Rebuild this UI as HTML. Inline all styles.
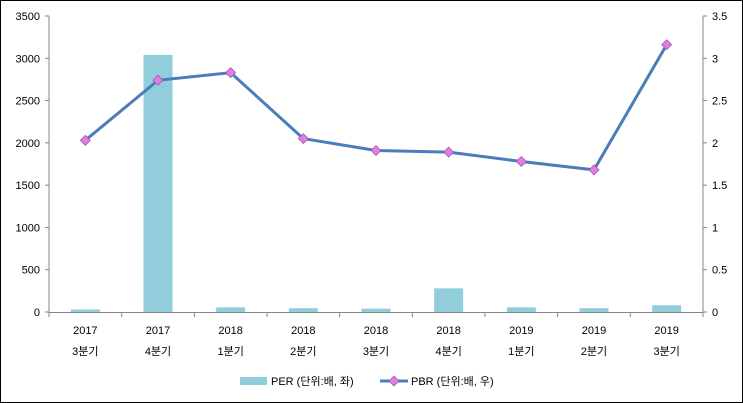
<!DOCTYPE html><html><head><meta charset="utf-8"><style>body{margin:0;background:#fff}svg{display:block}text{font-family:"Liberation Sans","Noto Sans CJK KR",sans-serif;font-size:11px;fill:#000}</style></head><body>
<svg width="743" height="403" viewBox="0 0 743 403">
<rect x="0.5" y="0.5" width="742" height="402" fill="#fff" stroke="#000"/>
<g id="bars" fill="#92CDDC"></g>
<g stroke="#868686" fill="none">
<line x1="49" y1="16" x2="49" y2="312"/><line x1="49" y1="312.5" x2="703" y2="312.5"/><line x1="703" y1="16" x2="703" y2="312"/>
</g>
<g id="tk" stroke="#868686"></g>
<g id="lbl"></g>
<polyline id="ln" fill="none" stroke="#4A7EBB" stroke-width="3"/>
<g id="mk"></g>
<rect x="240" y="377" width="27" height="8" fill="#92CDDC"/>
<text x="271" y="385">PER (단위:배, 좌)</text>
<line x1="380" y1="381" x2="408" y2="381" stroke="#4A7EBB" stroke-width="3"/>
<polygon points="394,376 399,381 394,386 389,381" fill="#E07FE0" stroke="#9B4DB5" stroke-width="0.7"/>
<text x="411" y="385">PBR (단위:배, 우)</text>
</svg>
<script>
const ns="http://www.w3.org/2000/svg";function el(p,t,a,tx){const e=document.createElementNS(ns,t);for(const k in a)e.setAttribute(k,a[k]);if(tx!=null)e.textContent=tx;document.getElementById(p).appendChild(e);}
const y0=312,h=296,w=(703-49)/9;
for(let i=0;i<=7;i++){const y=y0-i*h/7;el("tk","line",{x1:45,y1:y,x2:49,y2:y});el("tk","line",{x1:703,y1:y,x2:707,y2:y});
el("lbl","text",{x:40,y:y+4,"text-anchor":"end"},String(i*500));el("lbl","text",{x:712,y:y+4},i==0?"0":String(i*0.5));}
for(let i=0;i<=9;i++){const x=49+i*w;el("tk","line",{x1:x,y1:312,x2:x,y2:317});}
const per=[30,3040,55,45,40,280,55,45,80],pbr=[2.03,2.74,2.83,2.05,1.91,1.89,1.78,1.68,3.16];
const yr=["2017","2017","2018","2018","2018","2018","2019","2019","2019"],q=["3","4","1","2","3","4","1","2","3"];
let pts=[];
for(let i=0;i<9;i++){const cx=49+w*(i+0.5);const bh=per[i]*h/3500;el("bars","rect",{x:cx-14.5,y:y0-bh,width:29,height:bh});
el("lbl","text",{x:cx,y:334,"text-anchor":"middle"},yr[i]);el("lbl","text",{x:cx,y:355,"text-anchor":"middle"},q[i]+"분기");
const py=y0-pbr[i]*h/3.5;pts.push(cx+","+py);el("mk","polygon",{points:`${cx},${py-5} ${cx+5},${py} ${cx},${py+5} ${cx-5},${py}`,fill:"#E07FE0",stroke:"#9B4DB5","stroke-width":0.7});}
document.getElementById("ln").setAttribute("points",pts.join(" "));
</script>
</body></html>
